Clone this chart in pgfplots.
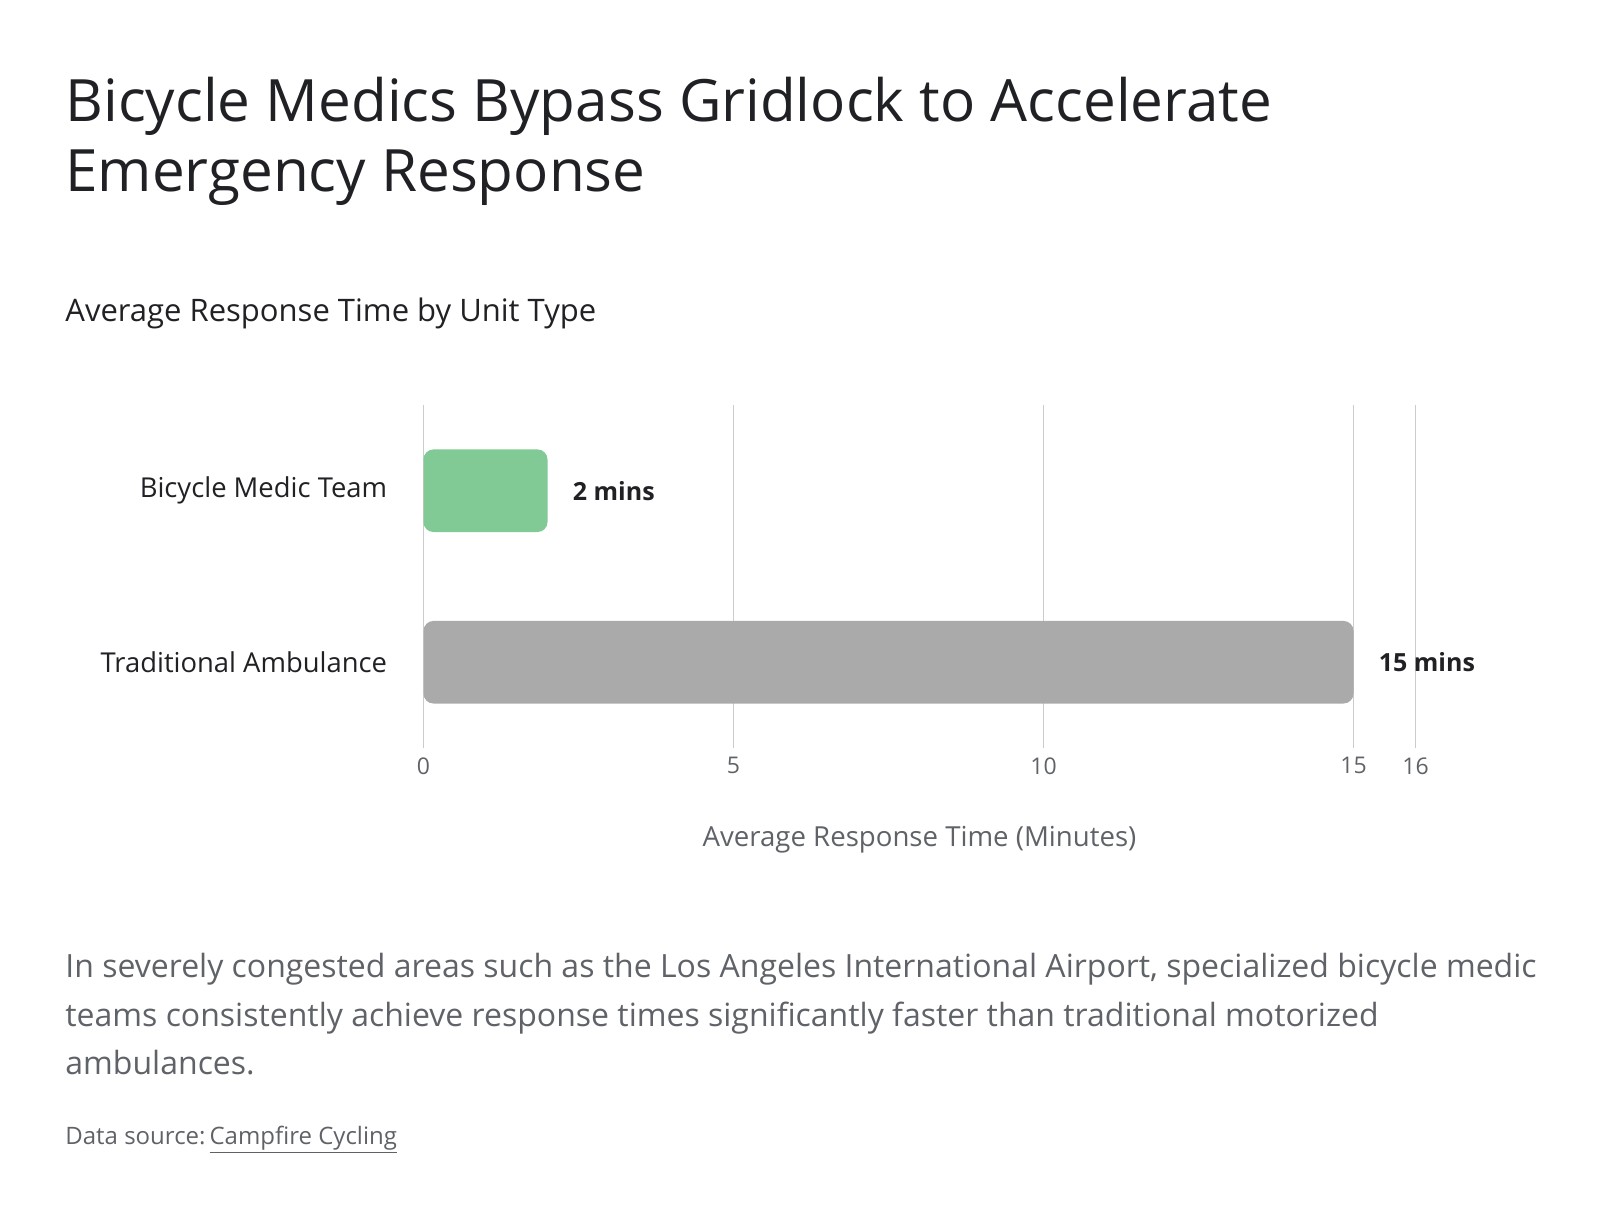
\documentclass[border=0pt]{standalone}
\usepackage{pgfplots}
\pgfplotsset{compat=1.18}
\usepackage{fontspec}
\setmainfont{Open Sans}
\definecolor{ink}{HTML}{202124}
\definecolor{sub}{HTML}{5F6368}
\definecolor{gridc}{HTML}{CCCCCC}
\definecolor{greenbar}{HTML}{81C995}
\definecolor{graybar}{HTML}{AAAAAA}
\begin{document}
\begin{tikzpicture}
\path[use as bounding box] (0,0) rectangle (800bp,608bp);
\node[anchor=base west,inner sep=0,text=ink,font=\fontsize{29.2bp}{34bp}\selectfont] at (32.5bp,547bp) {Bicycle Medics Bypass Gridlock to Accelerate};
\node[anchor=base west,inner sep=0,text=ink,font=\fontsize{29.2bp}{34bp}\selectfont] at (32.5bp,512bp) {Emergency Response};
\node[anchor=base west,inner sep=0,text=ink,font=\fontsize{15.5bp}{18bp}\selectfont] at (32.5bp,447bp) {Average Response Time by Unit Type};
\begin{axis}[
  at={(211.75bp,234bp)}, anchor=south west,
  scale only axis, width=496bp, height=171.5bp,
  xbar, bar width=41.3bp, bar shift=0pt,
  xmin=0, xmax=16, ymin=-0.5, ymax=1.5,
  xtick={0,5,10,15,16}, ytick={0,1},
  yticklabels={Traditional Ambulance, Bicycle Medic Team},
  axis line style={draw=none}, major tick length=0pt,
  xmajorgrids, grid style={gridc, line width=0.6bp},
  /pgf/number format/assume math mode=true,
  xticklabel style={font=\fontsize{11.5bp}{14bp}\selectfont, text=sub, inner sep=0pt, yshift=-4.5bp},
  yticklabel style={font=\fontsize{13.7bp}{16bp}\selectfont, text=ink, inner sep=0pt, xshift=-18bp},
  xlabel={Average Response Time (Minutes)},
  xlabel style={font=\fontsize{13.8bp}{16bp}\selectfont, text=sub, anchor=base, at={(axis description cs:0.5,0)}, yshift=-49.5bp},
  nodes near coords={\pgfmathprintnumber{\pgfplotspointmeta} mins},
  nodes near coords style={font=\bfseries\fontsize{12.5bp}{16bp}\selectfont, text=ink, anchor=west, inner sep=0pt, xshift=12.5bp},
]
\addplot[fill=greenbar, draw=none, rounded corners=5bp] coordinates {(2,1)};
\addplot[fill=graybar, draw=none, rounded corners=5bp] coordinates {(15,0)};
\end{axis}
\node[anchor=base west,inner sep=0,text=sub,font=\fontsize{16bp}{24bp}\selectfont] at (32.5bp,119bp) {In severely congested areas such as the Los Angeles International Airport, specialized bicycle medic};
\node[anchor=base west,inner sep=0,text=sub,font=\fontsize{16bp}{24bp}\selectfont] at (32.5bp,94.75bp) {teams consistently achieve response times significantly faster than traditional motorized};
\node[anchor=base west,inner sep=0,text=sub,font=\fontsize{16bp}{24bp}\selectfont] at (32.5bp,70.5bp) {ambulances.};
\node[anchor=base west,inner sep=0,text=sub,font=\fontsize{12bp}{14bp}\selectfont] at (32.5bp,36bp) {Data source:\,\underline{Campfire Cycling}};
\end{tikzpicture}
\end{document}
